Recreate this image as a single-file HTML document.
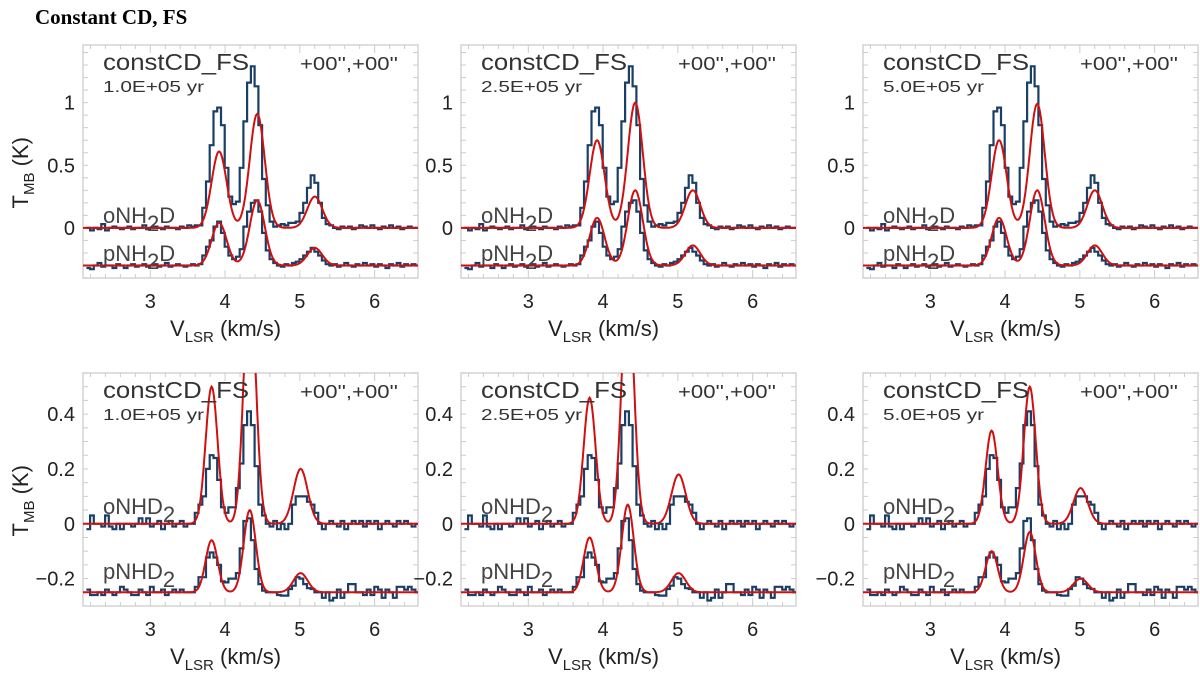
<!DOCTYPE html>
<html><head><meta charset="utf-8"><style>
html,body{margin:0;padding:0;background:#fff;}
svg{display:block;font-family:"Liberation Sans",sans-serif;}
</style></head><body>
<svg id="fig" width="1200" height="673" viewBox="0 0 1200 673" xmlns="http://www.w3.org/2000/svg">
<text x="35" y="24" font-family="Liberation Serif,serif" font-weight="bold" font-size="21" fill="#000">Constant CD, FS</text>
</svg>
<script>
// channel grid
const vStart = 2.17, vStep = 0.05;
const columnAges = ["1.0E+05 yr", "2.5E+05 yr", "5.0E+05 yr"];
const topSpecies = ["oNH2D", "pNH2D"];
const bottomSpecies = ["oNHD2", "pNHD2"];
const topOffsets = [0, -0.3];
const bottomOffsets = [0, -0.25];
const topYTicks = [0, 0.5, 1];
const topYTickLabels = ["0", "0.5", "1"];
const bottomYTicks = [-0.2, 0, 0.2, 0.4];
const bottomYTickLabels = ["\u22120.2", "0", "0.2", "0.4"];
const xTicks = [3, 4, 5, 6];
const xTickLabels = ["3", "4", "5", "6"];
// observed spectra (K, relative to their offset)
const obsONH2D = [0,-0.02,0,-0.01,0.03,-0.02,0,0.01,0,-0.01,0,0.01,-0.01,0,0,0.02,-0.01,0,0.01,0,-0.01,0.01,0,0,-0.01,0.01,0,0.02,0.01,0.02,0.02,
 0.16,0.37,0.66,0.93,0.96,0.82,0.48,0.25,0.19,0.21,0.48,0.85,1.16,1.29,1.13,0.82,0.39,0.18,0.05,
 0.01,0.02,0.03,0.02,0.04,0.04,
 0.05,0.12,0.2,0.32,0.42,0.36,0.2,0.08,0.03,
 0.02,0,-0.01,0.01,0,0.01,-0.01,0,0.02,0.01,0,0.02,0,-0.01,0.01,0,0.02,0,0.01,-0.01,0,0.01,0,0];
const obsPNH2D = [-0.02,-0.03,0,0.02,-0.01,0,0,-0.02,0.01,0,-0.02,0,0.01,-0.01,0,0.01,-0.01,0,0.01,-0.01,0,0.02,-0.01,0,0.01,0,-0.01,0,0.01,0,0.01,
 0.08,0.15,0.2,0.31,0.35,0.26,0.15,0.08,0.05,0.07,0.13,0.31,0.43,0.5,0.52,0.43,0.26,0.12,0.05,
 0.02,0,-0.01,0.01,0,0.02,
 0.03,0.05,0.08,0.11,0.14,0.11,0.08,0.04,0.01,
 0,0.01,-0.01,0,0.02,0,-0.01,0.01,0,0.02,0,0.01,-0.01,0.01,0,-0.02,0.01,0,0.02,-0.01,0.01,0,0.01,0];
const obsONHD2 = [-0.02,0.03,0,0,-0.01,0.03,-0.01,-0.02,0,-0.02,0,0,-0.01,0,0.02,0,0.02,-0.01,0,0.01,-0.02,0,0.01,-0.01,0,0.01,-0.01,0,
 0.0,0.04,0.07,0.10,0.2,0.25,0.24,0.16,0.06,0.04,0.06,0.06,0.13,0.22,0.36,0.41,0.36,0.21,0.07,0.03,0.0,-0.01,
 0.01,-0.02,0,-0.02,
 0,0.07,0.1,0.1,0.1,0.08,0.07,0.04,0.0,
 -0.02,0,0.01,0,-0.01,0.01,-0.02,0,0.01,0,0.01,-0.01,0.01,0,0.01,-0.02,0,0.01,0,-0.01,0.01,0,0.01,0,-0.01,0];
const obsPNHD2 = [0.01,-0.01,-0.01,0,-0.01,0.01,0,-0.01,0,0.02,0.01,0,-0.01,-0.01,0.01,0,-0.01,0.02,0,0,0.01,-0.01,0,0.01,0,0.01,0,0,
 0.0,0.02,0.055,0.055,0.127,0.145,0.127,0.1,0.04,0.036,0.05,0.05,0.07,0.16,0.26,0.27,0.19,0.085,0.03,0.006,0,0,
 0,-0.01,-0.012,-0.012,
 0.012,0.024,0.055,0.05,0.03,0.015,0.012,0,0,
 -0.02,0,-0.03,-0.02,0.01,-0.02,0,0.03,0.03,0,0,-0.01,0.01,-0.01,0.02,0.01,-0.02,0.01,0,-0.02,0.02,0.02,0.01,0.02,0.01,0];
// model line components: centres, widths, amplitudes per column
const centersNH2D = [3.92, 4.43, 5.20];
const sigmaNH2D = [0.1, 0.1, 0.1];
const modelONH2D = [[0.61,0.91,0.25],[0.70,1.0,0.30],[0.70,0.99,0.30]];
const modelPNH2D = [[0.34,0.52,0.14],[0.38,0.60,0.16],[0.38,0.60,0.16]];
const centersNHD2 = [3.82, 4.33, 5.01];
const sigmaNHD2 = [0.08, 0.08, 0.095];
const modelONHD2 = [[0.50,0.90,0.20],[0.46,0.90,0.18],[0.34,0.50,0.13]];
const modelPNHD2 = [[0.19,0.30,0.07],[0.20,0.32,0.07],[0.15,0.22,0.05]];

const NS = "http://www.w3.org/2000/svg";
const svg = document.getElementById("fig");
function mk(tag, attrs, parent) {
  const e = document.createElementNS(NS, tag);
  for (const k in attrs) e.setAttribute(k, attrs[k]);
  (parent || svg).appendChild(e);
  return e;
}
const colX = [83, 461, 863];
const plotW = 335;
const xMin = 2.1, xMax = 6.58;
const rows = [
  {top: 45, bottom: 278, yMin: -0.40, yMax: 1.46, ticks: topYTicks, labels: topYTickLabels, minor: 0.1,
   species: topSpecies, offsets: topOffsets, obs: [obsONH2D, obsPNH2D], models: [modelONH2D, modelPNH2D],
   centers: centersNH2D, sig: sigmaNH2D, specY: [223, 261], key: "nh2d"},
  {top: 373, bottom: 606, yMin: -0.30, yMax: 0.55, ticks: bottomYTicks, labels: bottomYTickLabels, minor: 0.05,
   species: bottomSpecies, offsets: bottomOffsets, obs: [obsONHD2, obsPNHD2], models: [modelONHD2, modelPNHD2],
   centers: centersNHD2, sig: sigmaNHD2, specY: [514, 579], key: "nhd2"}
];
const defs = mk("defs", {});
rows.forEach((row, ri) => {
  for (let c = 0; c < 3; c++) {
    const x0 = colX[c], x1 = x0 + plotW;
    const xs = v => x0 + (v - xMin) / (xMax - xMin) * plotW;
    const ys = t => row.bottom - (t - row.yMin) / (row.yMax - row.yMin) * (row.bottom - row.top);
    const g = mk("g", {});
    
    
    const cp = mk("clipPath", {id: "cp" + ri + c}, defs);
    mk("rect", {x: x0, y: row.top, width: plotW, height: row.bottom - row.top}, cp);
    const fr = mk("rect", {x: x0, y: row.top, width: plotW, height: row.bottom - row.top, fill: "none", stroke: "#d4d4d4", "stroke-width": 1.5}, g);
    
    
    for (let v = 2.2; v <= 6.5; v += 0.2) {
      const X = xs(v);
      const major = Math.abs(v - Math.round(v)) < 0.01;
      const len = major ? 8 : 4;
      mk("line", {x1: X, x2: X, y1: row.bottom, y2: row.bottom - len, stroke: "#ccc"}, g);
      mk("line", {x1: X, x2: X, y1: row.top, y2: row.top + len, stroke: "#ccc"}, g);
    }
    for (let t = Math.ceil(row.yMin / row.minor) * row.minor; t <= row.yMax; t += row.minor) {
      const Y = ys(t);
      mk("line", {x1: x0, x2: x0 + 5, y1: Y, y2: Y, stroke: "#ccc"}, g);
      mk("line", {x1: x1, x2: x1 - 5, y1: Y, y2: Y, stroke: "#ccc"}, g);
    }
    xTicks.forEach((v, i) => {
      const t = mk("text", {x: xs(v), y: row.bottom + 30, "text-anchor": "middle", "font-size": 20, fill: "#222"}, g);
      t.textContent = xTickLabels[i];
      
      
    });
    row.ticks.forEach((v, i) => {
      const t = mk("text", {x: x0 - 8, y: ys(v) + 7, "text-anchor": "end", "font-size": 20, fill: "#222"}, g);
      t.textContent = row.labels[i];
      
      
    });
    const xt = mk("text", {x: x0 + 87, y: row.bottom + 58, "font-size": 22, fill: "#222"}, g);
    xt.innerHTML = 'V<tspan font-size="15" dy="6">LSR</tspan><tspan dy="-6"> (km/s)</tspan>';
    
    
    if (c === 0) {
      const cy = (row.top + row.bottom) / 2 - 8;
      const yt = mk("text", {x: 0, y: 0, "font-size": 22, fill: "#222", transform: "translate(28," + (cy + 55) + ") rotate(-90)"}, g);
      yt.innerHTML = 'T<tspan font-size="15" dy="6">MB</tspan><tspan dy="-6"> (K)</tspan>';
      
      
    }
    const clipG = mk("g", {"clip-path": "url(#cp" + ri + c + ")"}, g);
    for (let s = 0; s < 2; s++) {
      const off = row.offsets[s];
      const comps = row.models[s][c];
      let d = "";
      for (let v = xMin; v <= xMax; v += 0.01) {
        let t = off;
        comps.forEach((a, k) => { t += a * Math.exp(-0.5 * Math.pow((v - row.centers[k]) / row.sig[k], 2)); });
        d += (d ? "L" : "M") + xs(v).toFixed(1) + "," + ys(t).toFixed(1);
      }
      const obs = row.obs[s];
      let h = "";
      obs.forEach((val, i) => {
        const vc = vStart + i * vStep;
        const Y = ys(val + off).toFixed(1);
        const xa = xs(vc - vStep / 2).toFixed(1), xb = xs(vc + vStep / 2).toFixed(1);
        h += (h ? "L" : "M") + xa + "," + Y + "L" + xb + "," + Y;
      });
      const hp = mk("path", {d: h, fill: "none", stroke: "#1a3f66", "stroke-width": 2.2}, clipG);
      
      
      const mp = mk("path", {d: d, fill: "none", stroke: "#d01010", "stroke-width": 2}, clipG);
      
      
      const sp = row.species[s];
      const st = mk("text", {x: x0 + 20, y: row.specY[s], "font-size": 22, fill: "#444"}, g);
      if (sp.endsWith("D2")) st.innerHTML = sp.slice(0, 4) + '<tspan font-size="22" dy="8">2</tspan>';
      else st.innerHTML = sp.slice(0, 3) + '<tspan font-size="22" dy="8">2</tspan><tspan dy="-8">D</tspan>';
      
      
    }
    const t1 = mk("text", {x: x0 + 20, y: row.top + 25, "font-size": 23, fill: "#333", textLength: 146, lengthAdjust: "spacingAndGlyphs"}, g);
    t1.textContent = "constCD_FS";
    
    
    const t2 = mk("text", {x: x0 + 217, y: row.top + 25, "font-size": 18, fill: "#333", textLength: 98, lengthAdjust: "spacingAndGlyphs"}, g);
    t2.textContent = "+00'',+00''";
    
    
    const t3 = mk("text", {x: x0 + 20, y: row.top + 47, "font-size": 16, fill: "#333", textLength: 101, lengthAdjust: "spacingAndGlyphs"}, g);
    t3.textContent = columnAges[c];
    
    
  }
});
</script>
</body></html>
